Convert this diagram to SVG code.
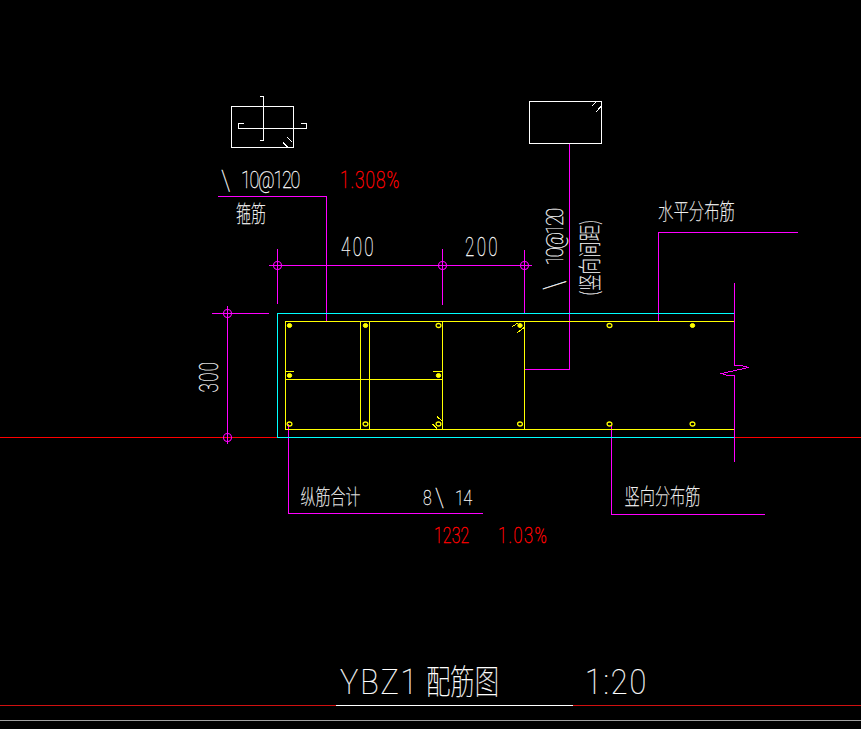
<svg xmlns="http://www.w3.org/2000/svg" width="861" height="729" viewBox="0 0 861 729">
<style>
.l{fill:none;shape-rendering:crispEdges;stroke-width:1}
.w{stroke:#fff}.m{stroke:#f0f}.c{stroke:#0ff}.y{stroke:#ff0}.r{stroke:#f00}.dr{stroke:#d01010}.g{stroke:#a0a0a0}
.d{fill:none;stroke:#f0f;stroke-width:1.1}
text{font-family:"Roboto","Liberation Sans",sans-serif;font-weight:100;fill:#fff;stroke:#fff;stroke-width:.25}
.cjk{font-family:"Noto Sans CJK SC","Noto Sans",sans-serif;font-weight:100}
text.red{fill:#f00;stroke:#f00;stroke-width:.45}
.b{fill:none;stroke:#ff0;stroke-width:1.3}
.f{fill:#ff0;stroke:#ff0;stroke-width:1}
</style>
<defs>
<ellipse id="bar" rx="2.4" ry="2" class="b"/>
<ellipse id="solid" rx="2.2" ry="2" class="f"/>
<circle id="dot" r="4" class="d"/>
</defs>
<rect width="861" height="729" fill="#000"/>
<g id="axis-lines">
<path class="l r" d="M0 437.5H277.5M734.5 437.5H861"/>
<path class="l dr" d="M0 705.5H336M573 705.5H861"/>
<path class="l g" d="M0 720.5H861"/>
</g>
<g id="connectors">
<path class="l m" d="M218 196.5H326.5V321"/>
<path class="l m" d="M569.5 143.5V369.5H524.5"/>
<path class="l m" d="M658.5 321V232.5H798"/>
<path class="l m" d="M288.5 424V513.5H483"/>
<path class="l m" d="M611.5 426V514.5H765"/>
</g>
<g id="dimensions">
<path class="l m" d="M269 265.5H532M277.5 249V304M442.5 249V305M524.5 250V314"/>
<path class="l m" d="M212 313.5H269M227.5 306V444"/>
<use href="#dot" x="277.5" y="265.5"/>
<use href="#dot" x="442.5" y="265.5"/>
<use href="#dot" x="524.5" y="265.5"/>
<use href="#dot" x="227.5" y="313.5"/>
<use href="#dot" x="227.5" y="437.5"/>
<text transform="translate(341 256) scale(.68 1)" font-size="25" textLength="48" lengthAdjust="spacing">400</text>
<text transform="translate(465 256) scale(.68 1)" font-size="25" textLength="48" lengthAdjust="spacing">200</text>
<text transform="translate(218 392.5) rotate(-90) scale(.68 1)" font-size="25" textLength="45" lengthAdjust="spacing">300</text>
</g>
<g id="section-stirrup">
<path class="l w" d="M231.5 106.5H293.5V147.5H231.5Z"/>
<path class="l w" d="M259.5 96.5H263.5V140.5H259.5M244 123.5H238.5V128.5H306.5V123.5H301"/>
<path class="l w" d="M283 142.5L287.5 147M287.5 137.5L292.5 142.5"/>
</g>
<g id="section-vertical">
<path class="l w" d="M529.5 101.5H601.5V143.5H529.5Z"/>
<path class="l w" d="M591.5 106.5L596.5 101.5M596 112L601 106.5"/>
</g>
<g id="label-stirrup">
<text transform="translate(221 190) scale(.95 1.05)" font-size="26">\</text>
<text transform="translate(241 187.5) scale(.78 1)" font-size="23" textLength="76" lengthAdjust="spacing">10@120</text>
<text class="red" transform="translate(340 187.5) scale(.75 1)" font-size="23" textLength="79" lengthAdjust="spacing">1.308%</text>
<text class="cjk" x="236" y="222" font-size="23" textLength="30" lengthAdjust="spacingAndGlyphs">箍筋</text>
</g>
<g id="label-vertical">
<text transform="translate(564 290) rotate(-90) scale(.95 1.1)" font-size="26">\</text>
<text transform="translate(563 265.5) rotate(-90) scale(.78 1)" font-size="24" textLength="74" lengthAdjust="spacing">10@120</text>
<text class="cjk" transform="translate(598 296) rotate(-90) scale(.72 1)" font-size="23" textLength="106" lengthAdjust="spacing">(竖向间距)</text>
</g>
<g id="label-horizontal">
<text class="cjk" x="658" y="219" font-size="22" textLength="77" lengthAdjust="spacingAndGlyphs">水平分布筋</text>
</g>
<g id="outer-wall">
<path class="l c" d="M734.5 313.5H277.5V437.5H734.5"/>
</g>
<g id="inner-rebar">
<path class="l y" d="M734.5 321.5H285.5V429.5H734.5"/>
<path class="l y" d="M360.5 321.5V429.5M369.5 321.5V429.5M442.5 321.5V429.5M524.5 321.5V429.5M285.5 379.5H442.5"/>
<path class="l y" d="M285.5 371.5H294M433 371.5H442.5"/>
<path class="l y" d="M512.5 326.5L518.5 322.5M517.5 332.5L524 327.5M437 416.5L442 421M432.5 424L437 428.5"/>
<use href="#solid" x="289.5" y="325.5"/><use href="#solid" x="365.5" y="325.5"/><use href="#bar" x="438.5" y="325.5"/><use href="#solid" x="520" y="325.5"/><use href="#bar" x="609.5" y="325.5"/><use href="#solid" x="692.5" y="325.5"/>
<use href="#solid" x="289.5" y="375.5"/><use href="#solid" x="438.5" y="375.5"/>
<use href="#bar" x="289.5" y="424"/><use href="#bar" x="365.5" y="424"/><use href="#bar" x="438.5" y="424"/><use href="#bar" x="520" y="424"/><use href="#bar" x="609.5" y="424"/><use href="#bar" x="692.5" y="424"/>
</g>
<g id="break-line">
<path class="l m" d="M734.5 283V365H740L748.5 367.5L721.5 373.5L728 375.5L734.5 376V462"/>
</g>
<g id="label-longitudinal">
<text class="cjk" x="300.5" y="504" font-size="21" textLength="60" lengthAdjust="spacingAndGlyphs">纵筋合计</text>
<text transform="translate(423 505) scale(.75 1)" font-size="21">8</text>
<text transform="translate(435 507) scale(.95 1.05)" font-size="25">\</text>
<text transform="translate(455 505) scale(.78 1)" font-size="21" textLength="22" lengthAdjust="spacing">14</text>
<text class="red" transform="translate(434 543) scale(.72 1)" font-size="22" textLength="49" lengthAdjust="spacing">1232</text>
<text class="red" transform="translate(498 543) scale(.75 1)" font-size="22" textLength="65" lengthAdjust="spacing">1.03%</text>
</g>
<g id="label-distribution">
<text class="cjk" x="624.5" y="504" font-size="22" textLength="76" lengthAdjust="spacingAndGlyphs">竖向分布筋</text>
</g>
<g id="title">
<text transform="translate(340 694) scale(.85 1)" font-size="36" textLength="91" lengthAdjust="spacing">YBZ1</text>
<text class="cjk" x="426" y="694" font-size="34" textLength="73" lengthAdjust="spacingAndGlyphs">配筋图</text>
<text transform="translate(585 694) scale(.85 1)" font-size="36" textLength="72" lengthAdjust="spacing">1:20</text>
<path class="l w" d="M336 705.5H573"/>
</g>
</svg>
